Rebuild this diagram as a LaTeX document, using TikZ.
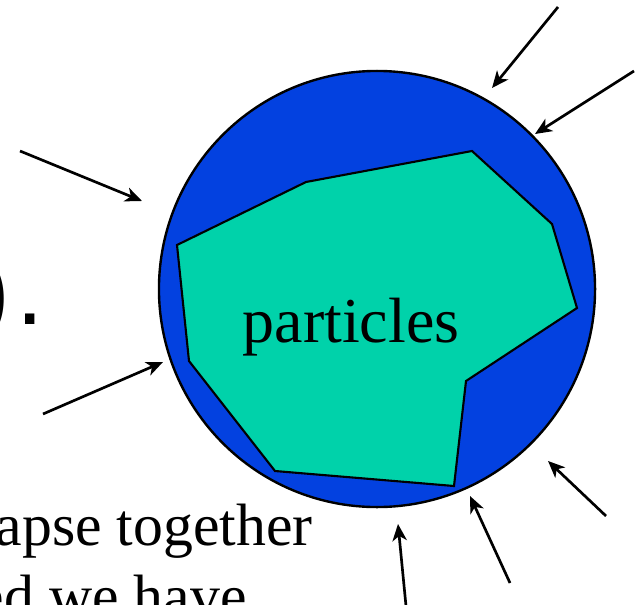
\documentclass[tikz,border=0pt]{standalone}
\usepackage{fontspec}
\usepackage{tikz}
\usetikzlibrary{arrows.meta}
\newfontfamily\slidefont{Liberation Serif}
\newfontfamily\slidesans{Liberation Sans}
\definecolor{shellblue}{RGB}{3,65,224}
\definecolor{coregreen}{RGB}{0,210,170}
\tikzset{
  push/.style={line width=1.9pt, -{Stealth[length=0.42cm,width=0.36cm,inset=0.12cm]}},
  slidetext/.style={font=\slidefont\fontsize{42.5}{50}\selectfont, inner sep=0pt}
}

\begin{document}
\begin{tikzpicture}[x=0.025cm,y=-0.025cm]
\useasboundingbox (0,0) rectangle (635,604);
% the shell and the particles inside it
\node[circle, draw, line width=1.7pt, fill=shellblue, minimum size=10.9cm, inner sep=0pt] (shell) at (377,289) {};
\draw[fill=coregreen, line width=1.5pt] (177,245) -- (306,182) -- (472,151) -- (552,224) -- (577,308) -- (466,381) -- (454,486) -- (275,471) -- (189,361) -- cycle;
\node[font=\slidefont\fontsize{45.5}{54}\selectfont, inner sep=0pt, anchor=base] (label) at (351,342) {particles};
% leftover slide text
\node[font=\slidesans\fontsize{70}{80}\selectfont, inner sep=0pt, anchor=base east] (stop) at (44,324) {)\kern0.15cm.};
\node[slidetext, anchor=base east] (line1) at (313,545) {apse together};
\node[slidetext, anchor=base east] (line2) at (247,616) {ed we have};
% pressure from outside
\coordinate (t1) at (558,7);   \coordinate (h1) at (492,88);
\coordinate (t2) at (634,71);  \coordinate (h2) at (535,134);
\coordinate (t3) at (20,151);  \coordinate (h3) at (142,201);
\coordinate (t4) at (43,414);  \coordinate (h4) at (163,362);
\coordinate (t5) at (606,516); \coordinate (h5) at (548,461);
\coordinate (t6) at (510,583); \coordinate (h6) at (470,496);
\coordinate (t7) at (406,606); \coordinate (h7) at (398,524);
\draw[push] (t1) -- (h1);
\draw[push] (t2) -- (h2);
\draw[push] (t3) -- (h3);
\draw[push] (t4) -- (h4);
\draw[push] (t5) -- (h5);
\draw[push] (t6) -- (h6);
\draw[push] (t7) -- (h7);
\end{tikzpicture}
\end{document}
